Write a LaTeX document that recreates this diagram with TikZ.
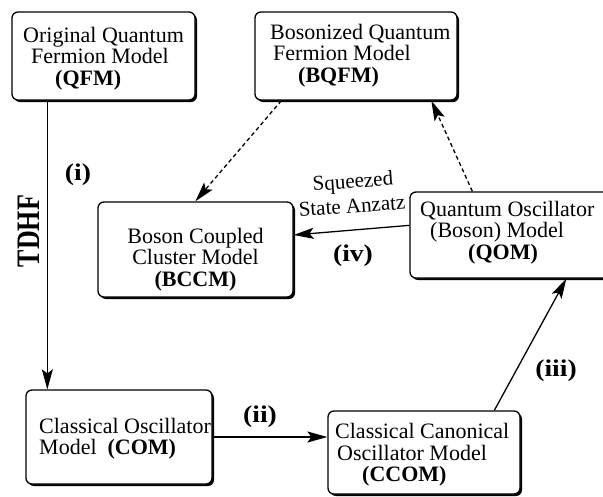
\documentclass[tikz,border=0pt]{standalone}
\usepackage{fontspec}
\setmainfont{Liberation Serif}
\usetikzlibrary{arrows.meta,shadows}

\begin{document}
\begin{tikzpicture}[x=1pt,y=-1pt,
 box/.style={draw, line width=1.3pt, rounded corners=6pt, fill=white, inner sep=0pt,
   drop shadow={shadow xshift=2pt, shadow yshift=-2pt, fill=black, opacity=1}},
 txt/.style={inner sep=0pt, font=\fontsize{22}{21.5}\selectfont},
 lbl/.style={inner sep=0pt, font=\fontsize{24}{24}\selectfont\bfseries},
 arr/.style={line width=1.3pt, -{Stealth[length=20pt,width=11pt,inset=4pt]}},
 darr/.style={arr, dash pattern=on 4pt off 3pt},
]
\useasboundingbox (0,0) rectangle (603,496);

\node[box, minimum width=183pt, minimum height=88pt] (qfm) at (103.5,56) {};
\node[box, minimum width=202pt, minimum height=88pt] (bqfm) at (356,56) {};
\node[box, minimum width=195pt, minimum height=95pt] (bccm) at (195.5,249.5) {};
\node[box, minimum width=210pt, minimum height=86pt] (qom) at (515,235) {};
\node[box, minimum width=186pt, minimum height=94pt] (com) at (119,437) {};
\node[box, minimum width=192pt, minimum height=83pt] (ccom) at (424,452.5) {};

\node[txt, anchor=west, align=left] (qfmt) at (23,58.3)
  {Original Quantum\\\hspace*{8pt}Fermion Model\\\hspace*{32pt}\textbf{(QFM)}};
\node[txt, anchor=west, align=left] (bqfmt) at (270,55.5)
  {Bosonized Quantum\\\hspace*{3pt}Fermion Model\\\hspace*{28pt}\textbf{(BQFM)}};
\node[txt, align=center] (bccmt) at (195.5,259.5)
  {Boson Coupled\\Cluster Model\\\textbf{(BCCM)}};
\node[txt, anchor=west, align=left] (qomt) at (420,232.5)
  {Quantum Oscillator\\\hspace*{10pt}(Boson) Model\\\hspace*{48pt}\textbf{(QOM)}};
\node[txt, anchor=west, align=left] (comt) at (39,438.5)
  {Classical Oscillator\\Model\ \ \textbf{(COM)}};
\node[txt, anchor=west, align=left] (ccomt) at (335,455)
  {Classical Canonical\\\hspace*{2pt}Oscillator Model\\\hspace*{27pt}\textbf{(CCOM)}};

\node[lbl] (l1) at (78,175) {\scalebox{1.15}[1]{(i)}};
\node[lbl, rotate=90, font=\fontsize{26}{26}\selectfont\bfseries] (tdhf) at (29,231) {\scalebox{1}[1.26]{TDHF}};
\node[lbl] (l2) at (260,417) {\scalebox{1.15}[1]{(ii)}};
\node[lbl] (l3) at (556,371) {\scalebox{1.15}[1]{(iii)}};
\node[lbl] (l4) at (353,256) {\scalebox{1.15}[1]{(iv)}};
\node[txt, rotate=4, font=\fontsize{21}{21}\selectfont] (sq1) at (353,183) {Squeezed};
\node[txt, rotate=4, font=\fontsize{21}{21}\selectfont] (sq2) at (352,206) {State Anzatz};

\draw[arr] ([xshift=36pt]qfm.south west) -- ([xshift=22pt]com.north west);
\draw[arr] (com.east) -- (com.east -| ccom.west);
\draw[arr] ([xshift=167pt]ccom.north west) -- ([xshift=157pt]qom.south west);
\draw[arr] ([yshift=-34pt]qom.north west) -- ([yshift=14.5pt]bccm.east);
\draw[darr] ([xshift=63pt]qom.north west) -- ([xshift=177pt]bqfm.south west);
\draw[darr] ([xshift=27pt]bqfm.south west) -- ([xshift=98pt]bccm.north west);
\end{tikzpicture}
\end{document}
